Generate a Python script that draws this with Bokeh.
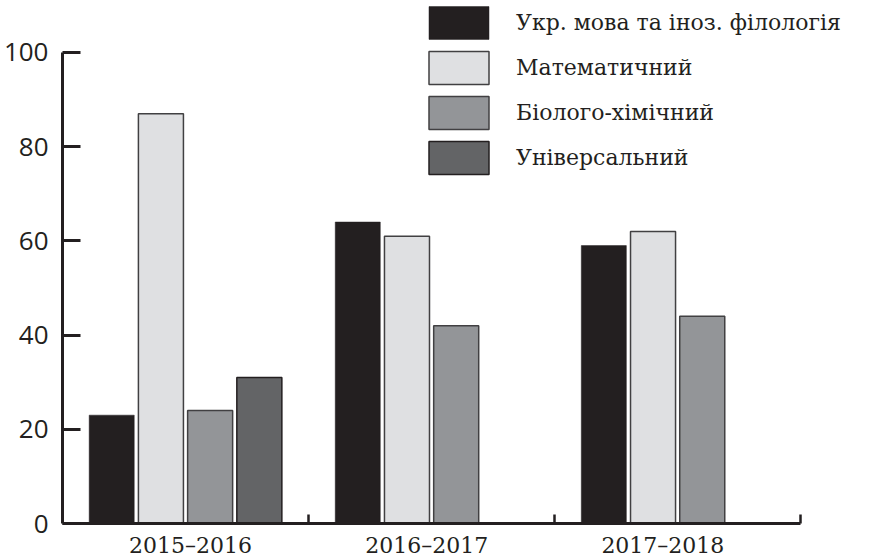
from bokeh.plotting import figure
from bokeh.models import Range1d, FixedTicker, Legend, LegendItem, ColumnDataSource
from bokeh.embed import file_html
from bokeh.resources import INLINE

# ---- data ----
categories = ["2015–2016", "2016–2017", "2017–2018"]
series_names = ["Укр. мова та іноз. філологія", "Математичний",
                "Біолого-хімічний", "Універсальний"]
ukr = [23, 64, 59]
mat = [87, 61, 62]
bio = [24, 42, 44]
univ = [31, float("nan"), float("nan")]
y_ticks = [0, 20, 40, 60, 80, 100]

series_values = [ukr, mat, bio, univ]
fills = ["#231f20", "#dfe0e2", "#939598", "#636466"]
lines = ["#231f20", "#414042", "#414042", "#231f20"]

INK = "#231f20"

p = figure(width=873, height=560, output_backend="svg", toolbar_location=None,
           x_range=Range1d(0, 3.296), y_range=Range1d(0, 111.04),
           min_border_left=60, min_border_right=0, min_border_top=0,
           min_border_bottom=37)
p.grid.visible = False
p.outline_line_color = None
p.background_fill_color = "white"
p.border_fill_color = "white"

bar_w = 0.183
renderers = []
for k, (name, vals) in enumerate(zip(series_names, series_values)):
    xs, tops = [], []
    for i, v in enumerate(vals):
        if v == v:  # skip missing
            xs.append(i + 0.2 * (k + 1))
            tops.append(v)
    src = ColumnDataSource(dict(x=xs, top=tops))
    r = p.vbar(x="x", top="top", bottom=0, width=bar_w, source=src,
               fill_color=fills[k], line_color=lines[k],
               line_width=1.5 if k in (1, 2, 3) else 0.5)
    renderers.append((name, r))

# y axis
ya = p.yaxis[0]
ya.ticker = FixedTicker(ticks=y_ticks, minor_ticks=[])
ya.bounds = (0, 100)
ya.axis_line_width = 3
ya.axis_line_color = INK
ya.major_tick_in = 18
ya.major_tick_out = 0
ya.major_tick_line_width = 3
ya.major_tick_line_color = INK
ya.minor_tick_line_color = None
ya.major_label_text_font = "Open Sans"
ya.major_label_text_font_size = "26px"
ya.major_label_text_color = INK
ya.major_label_standoff = 14

# x axis
label_pos = [0.52, 1.48, 2.44]
xa = p.xaxis[0]
xa.ticker = FixedTicker(ticks=label_pos, minor_ticks=[1, 2, 3])
xa.major_label_overrides = {pos: lab for pos, lab in zip(label_pos, categories)}
xa.bounds = (0, 3)
xa.axis_line_width = 3
xa.axis_line_color = INK
xa.major_tick_in = 0
xa.major_tick_out = 0
xa.major_tick_line_color = None
xa.minor_tick_in = 9
xa.minor_tick_out = 0
xa.minor_tick_line_width = 2.5
xa.minor_tick_line_color = INK
xa.major_label_text_font = "DejaVu Serif"
xa.major_label_text_font_size = "22px"
xa.major_label_text_color = INK
xa.major_label_standoff = 9

legend = Legend(items=[LegendItem(label=n, renderers=[r]) for n, r in renderers],
                location=(359, 345), orientation="vertical",
                glyph_width=75, glyph_height=41, label_height=41,
                spacing=4, padding=0, margin=0, label_standoff=20,
                label_text_font="DejaVu Serif", label_text_font_size="22px",
                label_text_color=INK, border_line_color=None,
                background_fill_alpha=0)
p.add_layout(legend)

open("out.html", "w").write(file_html(p, INLINE))
